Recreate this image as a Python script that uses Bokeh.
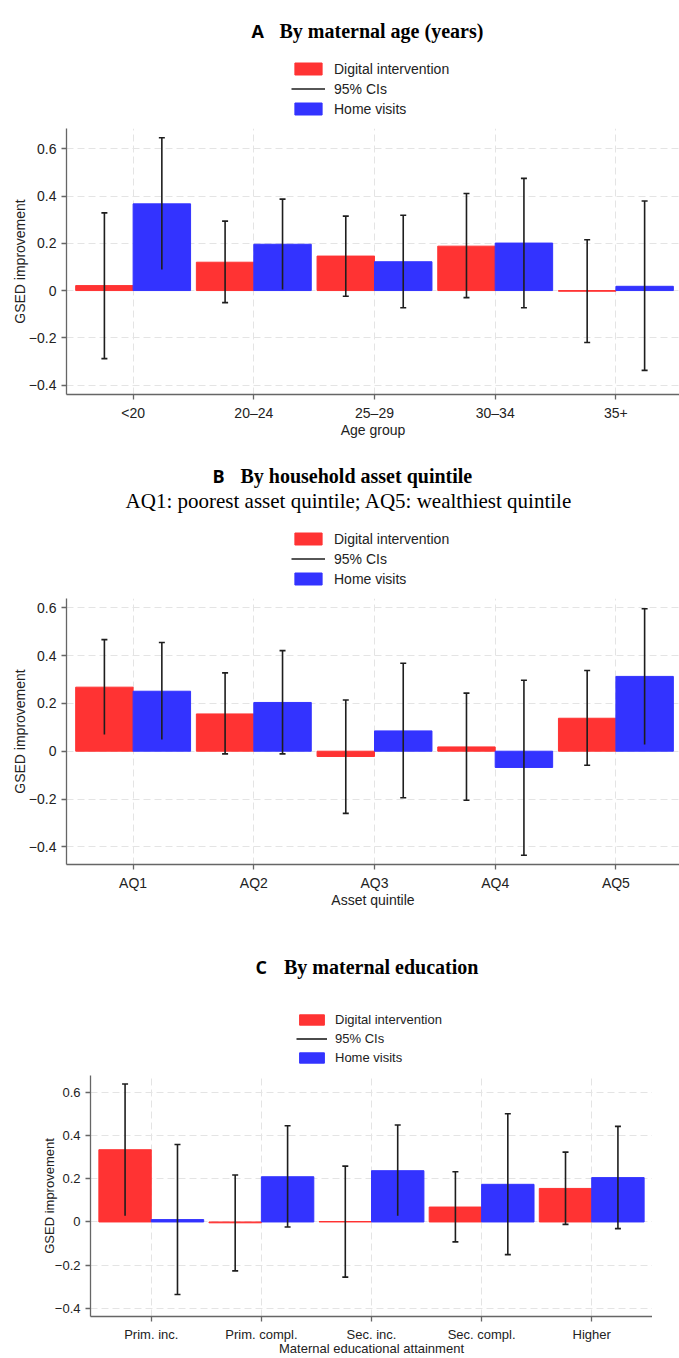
from bokeh.plotting import figure
from bokeh.models import (ColumnDataSource, FixedTicker, Whisker, TeeHead, Legend,
                          LegendItem, Label, Range1d, Spacer)
from bokeh.transform import dodge
from bokeh.layouts import column, row
from bokeh.embed import file_html
from bokeh.resources import INLINE

# ---------------- data ----------------
age_cats = ["<20", "20\u201324", "25\u201329", "30\u201334", "35+"]
age_digital = [0.021, 0.120, 0.146, 0.188, -0.003]
age_digital_lo = [-0.288, -0.051, -0.024, -0.030, -0.220]
age_digital_hi = [0.329, 0.294, 0.315, 0.411, 0.215]
age_home = [0.367, 0.196, 0.122, 0.201, 0.018]
age_home_lo = [0.089, 0.004, -0.073, -0.073, -0.338]
age_home_hi = [0.647, 0.387, 0.319, 0.475, 0.379]

asset_cats = ["AQ1", "AQ2", "AQ3", "AQ4", "AQ5"]
asset_digital = [0.268, 0.156, -0.022, 0.018, 0.138]
asset_digital_lo = [0.070, -0.011, -0.260, -0.205, -0.059]
asset_digital_hi = [0.467, 0.328, 0.214, 0.243, 0.338]
asset_home = [0.251, 0.204, 0.085, -0.068, 0.313]
asset_home_lo = [0.049, -0.011, -0.195, -0.435, 0.028]
asset_home_hi = [0.455, 0.421, 0.368, 0.297, 0.596]

edu_cats = ["Prim. inc.", "Prim. compl.", "Sec. inc.", "Sec. compl.", "Higher"]
edu_digital = [0.334, -0.004, 0.002, 0.069, 0.155]
edu_digital_lo = [0.029, -0.226, -0.255, -0.092, -0.011]
edu_digital_hi = [0.638, 0.217, 0.258, 0.232, 0.323]
edu_home = [0.011, 0.209, 0.237, 0.174, 0.205]
edu_home_lo = [-0.335, -0.023, 0.029, -0.151, -0.031]
edu_home_hi = [0.358, 0.445, 0.448, 0.500, 0.442]

series_labels = ["Digital intervention", "95% CIs", "Home visits"]
y_ticks = [-0.4, -0.2, 0.0, 0.2, 0.4, 0.6]
y_tick_labels = ["\u22120.4", "\u22120.2", "0", "0.2", "0.4", "0.6"]

RED = "#ff3333"
BLUE = "#3333ff"
CI_COLOR = "#1e1e1e"
AXIS_COLOR = "#666666"
GRID_COLOR = "#e4e4e4"
TEXT_COLOR = "#222222"
SANS = "Liberation Sans"
SERIF = "Liberation Serif"

BAR_W = 0.476
OFF = 0.238
LEFT = 66          # common left border of every figure (frames aligned)
FW = 613           # common frame width of headers and panels A/B


def make_source(cats, dig, dig_lo, dig_hi, hom, hom_lo, hom_hi):
    return ColumnDataSource(dict(x=list(range(1, len(cats) + 1)), cat=cats,
                                 dig=dig, dig_lo=dig_lo, dig_hi=dig_hi,
                                 hom=hom, hom_lo=hom_lo, hom_hi=hom_hi))


def header(src, height, letter, letter_x, title, title_x, base_y, leg,
           subtitle=None, sub_x=None, sub_y=None):
    h = figure(frame_width=FW, frame_height=height, x_range=Range1d(0, FW), y_range=Range1d(0, height),
               min_border_left=LEFT, min_border_right=0, min_border_top=0, min_border_bottom=0,
               output_backend="svg", toolbar_location=None,
               x_axis_location=None, y_axis_location=None)
    h.outline_line_color = None
    h.grid.visible = False
    h.add_layout(Label(x=letter_x - LEFT, y=base_y, x_units="screen", y_units="screen",
                       text=letter, text_font="Open Sans", text_font_style="bold",
                       text_font_size="18px", text_color="black",
                       text_baseline="alphabetic", text_align="left"))
    h.add_layout(Label(x=title_x - LEFT, y=base_y, x_units="screen", y_units="screen",
                       text=title, text_font=SERIF, text_font_style="bold",
                       text_font_size="20px", text_color="black",
                       text_baseline="alphabetic", text_align="left"))
    if subtitle:
        h.add_layout(Label(x=sub_x - LEFT, y=sub_y, x_units="screen", y_units="screen",
                           text=subtitle, text_font=SERIF, text_font_style="normal",
                           text_font_size="21px", text_color="black",
                           text_baseline="alphabetic", text_align="center"))
    # legend key: hidden copies of the panel's glyphs (same data, same styles)
    k_dig = h.vbar(x="x", top="dig", width=BAR_W, source=src, visible=False,
                   fill_color=RED, line_color=RED, line_width=1)
    k_ci = h.segment(x0="x", y0="dig_lo", x1="x", y1="dig_hi", source=src, visible=False,
                     line_color=CI_COLOR, line_width=1.6)
    k_hom = h.vbar(x="x", top="hom", width=BAR_W, source=src, visible=False,
                   fill_color=BLUE, line_color=BLUE, line_width=1)
    legend = Legend(items=[LegendItem(label=series_labels[0], renderers=[k_dig]),
                           LegendItem(label=series_labels[1], renderers=[k_ci]),
                           LegendItem(label=series_labels[2], renderers=[k_hom])],
                    location=(leg["x"] - LEFT, leg["y"]), orientation="vertical",
                    glyph_width=leg["gw"], glyph_height=leg["gh"],
                    label_height=leg["gh"], label_standoff=leg["lso"],
                    spacing=leg["sp"], padding=0, margin=0, click_policy="none",
                    border_line_color=None, background_fill_alpha=0,
                    label_text_font=SANS, label_text_font_size=f"{leg['fs']}px",
                    label_text_color=TEXT_COLOR)
    h.add_layout(legend)
    return h


def panel(src, xlabel, cfg):
    x = src.data["x"]
    cats = src.data["cat"]
    p = figure(frame_width=cfg["fw"], frame_height=cfg["fh"],
               min_border_left=LEFT, min_border_right=0,
               min_border_top=cfg["bt"], min_border_bottom=cfg["bb"],
               x_range=Range1d(*cfg["xr"]), y_range=Range1d(*cfg["yr"]),
               output_backend="svg", toolbar_location=None)
    p.outline_line_color = None
    p.background_fill_color = "white"
    p.border_fill_color = "white"

    xd = dodge("x", -OFF, range=p.x_range)
    xh = dodge("x", OFF, range=p.x_range)

    p.vbar(x=xd, top="dig", bottom=0, width=BAR_W, source=src,
           fill_color=RED, line_color=RED, line_width=1)
    p.vbar(x=xh, top="hom", bottom=0, width=BAR_W, source=src,
           fill_color=BLUE, line_color=BLUE, line_width=1)

    for base, lo, hi in ((xd, "dig_lo", "dig_hi"), (xh, "hom_lo", "hom_hi")):
        p.segment(x0=base, y0=lo, x1=base, y1=hi, source=src,
                  line_color=CI_COLOR, line_width=1.6)
        w = Whisker(base=base, lower=lo, upper=hi, source=src,
                    line_alpha=0,
                    upper_head=TeeHead(size=6, line_color=CI_COLOR, line_width=1.6),
                    lower_head=TeeHead(size=6, line_color=CI_COLOR, line_width=1.6))
        p.add_layout(w)

    fs = cfg["fs"]
    xt = FixedTicker(ticks=x)
    p.xaxis.ticker = xt
    p.xgrid.ticker = xt
    p.xaxis.major_label_overrides = {i: c for i, c in zip(x, cats)}
    yt = FixedTicker(ticks=y_ticks)
    p.yaxis.ticker = yt
    p.ygrid.ticker = yt
    p.yaxis.major_label_overrides = {t: l for t, l in zip(y_ticks, y_tick_labels)}
    for ax in (p.xaxis, p.yaxis):
        ax.axis_line_color = AXIS_COLOR
        ax.axis_line_width = 1.3
        ax.major_tick_line_color = AXIS_COLOR
        ax.major_tick_line_width = 1.3
        ax.major_tick_out = 5
        ax.major_tick_in = 0
        ax.minor_tick_line_color = None
        ax.major_label_text_font = SANS
        ax.major_label_text_font_size = f"{fs}px"
        ax.major_label_text_color = TEXT_COLOR
        ax.axis_label_text_font = SANS
        ax.axis_label_text_font_size = f"{fs}px"
        ax.axis_label_text_font_style = "normal"
        ax.axis_label_text_color = TEXT_COLOR
        ax.major_label_standoff = 5
    p.xaxis.axis_label = xlabel
    p.xaxis.axis_label_standoff = cfg["xls"]
    p.yaxis.axis_label = "GSED improvement"
    p.yaxis.axis_label_standoff = cfg["yls"]
    p.yaxis.major_label_orientation = "horizontal"

    for g in (p.xgrid, p.ygrid):
        g.grid_line_color = GRID_COLOR
        g.grid_line_dash = "7 4"
        g.grid_line_width = 1
    return p


src_age = make_source(age_cats, age_digital, age_digital_lo, age_digital_hi,
                      age_home, age_home_lo, age_home_hi)
src_asset = make_source(asset_cats, asset_digital, asset_digital_lo, asset_digital_hi,
                        asset_home, asset_home_lo, asset_home_hi)
src_edu = make_source(edu_cats, edu_digital, edu_digital_lo, edu_digital_hi,
                      edu_home, edu_home_lo, edu_home_hi)

LEG_AB = dict(x=291, y=3.3, gw=34, gh=15, lso=9, sp=4, fs=14)

hA = header(src_age, 120, "A", 251, "By maternal age (years)", 279, 89.5, LEG_AB)
pA = panel(src_age, "Age group",
           dict(fw=FW, fh=266, bt=8, bb=51,
                xr=(0.448, 5.527), yr=(-0.440, 0.686), fs=14, xls=-2, yls=-2))

hB = header(src_asset, 145, "B", 212, "By household asset quintile", 240, 115, LEG_AB,
            subtitle="AQ1: poorest asset quintile; AQ5: wealthiest quintile",
            sub_x=348.5, sub_y=90)
pB = panel(src_asset, "Asset quintile",
           dict(fw=FW, fh=266, bt=8, bb=56,
                xr=(0.448, 5.527), yr=(-0.474, 0.639), fs=14, xls=-2, yls=-2))

hC = header(src_edu, 147, "C", 255, "By maternal education", 283.5, 100.3,
            dict(x=296, y=2, gw=31, gh=13, lso=8, sp=4, fs=13))
pC = panel(src_edu, "Maternal educational attainment",
           dict(fw=562, fh=241, bt=8, bb=42,
                xr=(0.448, 5.552), yr=(-0.437, 0.677), fs=13, xls=-4, yls=-5))

layout = column(hA, pA, hB, pB, hC, row(Spacer(width=24), pC, spacing=0), spacing=0)
open("out.html", "w").write(file_html(layout, INLINE))
